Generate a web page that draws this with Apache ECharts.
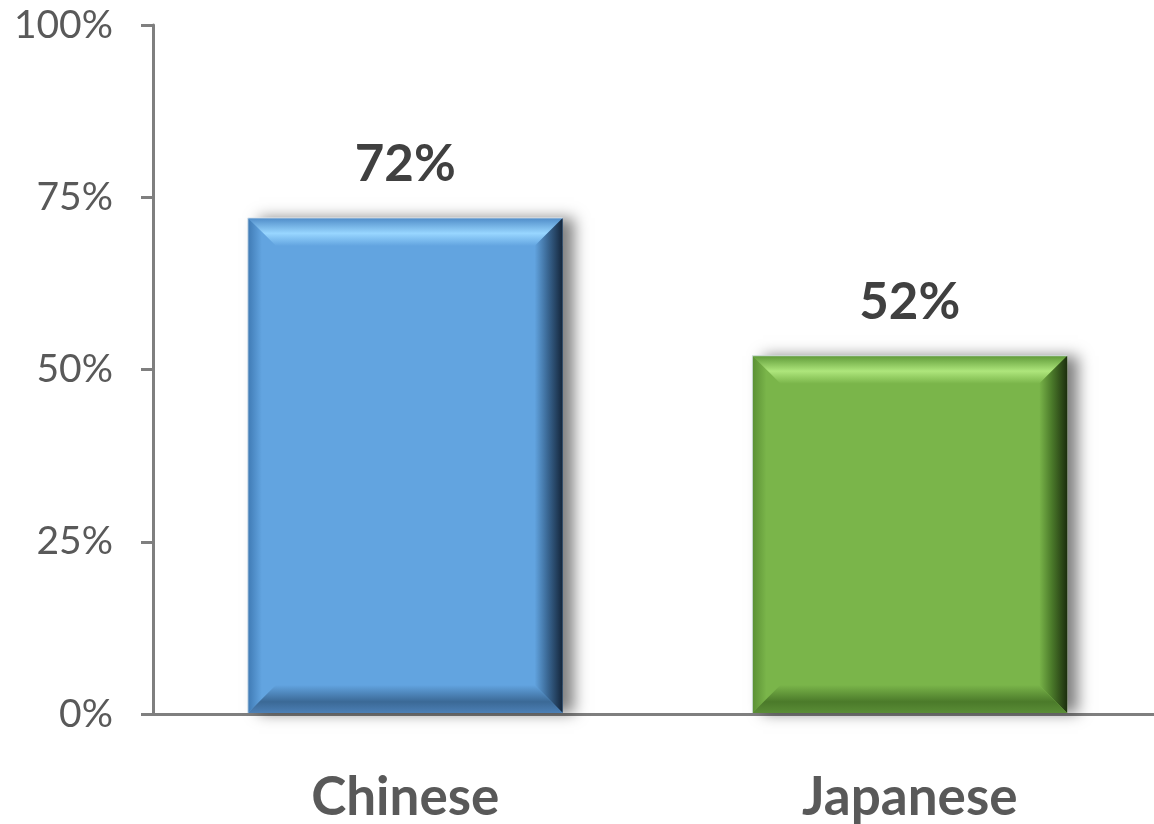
<!DOCTYPE html>
<html>
<head>
<meta charset="utf-8">
<style>
  html, body { margin: 0; padding: 0; background: #ffffff; overflow: hidden; }
  #chart { width: 1154px; height: 824px; }
</style>
<script src="https://cdn.jsdelivr.net/npm/echarts@6/dist/echarts.min.js"></script>
</head>
<body>
<div id="chart"></div>
<script>
// Share of respondents by language
const categories = ['Chinese', 'Japanese'];
const values = [72, 52];
const yTicks = [0, 25, 50, 75, 100];

// Bevel palette per bar: face, top highlight, top edge, side shade, dark edge, bottom shade
const palettes = [
  { face: '#62a4e0', light: '#98d6ff', edge: '#4f8cc8', leftEdge: '#3f7ab4', dark: '#14253a', bottom: '#3b6996', bottomEdge: '#4c80b6' },
  { face: '#7ab54a', light: '#aee67c', edge: '#5f9a38', leftEdge: '#5a9034', dark: '#1c2e0e', bottom: '#4b7a2a', bottomEdge: '#5a8d36' }
];

const chart = echarts.init(document.getElementById('chart'));

function lin(x, y, x2, y2, stops) {
  return new echarts.graphic.LinearGradient(x, y, x2, y2,
    stops.map(s => ({ offset: s[0], color: s[1] })));
}

function renderBevelBar(params, api) {
  const idx = params.dataIndex;
  const val = api.value(1);
  const top = api.coord([api.value(0), val]);
  const base = api.coord([api.value(0), 0]);
  const bw = api.size([1, 0])[0] * 0.624;
  const x0 = top[0] - bw / 2, x1 = top[0] + bw / 2;
  const y0 = top[1], y1 = base[1] - 1;
  const b = 28;
  const p = palettes[idx % palettes.length];
  return {
    type: 'group',
    children: [
      // body with soft drop shadow to the right
      {
        type: 'rect',
        shape: { x: x0, y: y0, width: bw, height: y1 - y0 },
        style: { fill: p.face, shadowColor: 'rgba(0,0,0,0.5)', shadowBlur: 14, shadowOffsetX: 11, shadowOffsetY: 0 }
      },
      // top bevel
      {
        type: 'polygon',
        shape: { points: [[x0, y0], [x1, y0], [x1 - b, y0 + b], [x0 + b, y0 + b]] },
        style: { fill: lin(0, 0, 0, 1, [[0, p.edge], [0.55, p.light], [1, p.face]]) }
      },
      // left bevel
      {
        type: 'polygon',
        shape: { points: [[x0, y0], [x0 + b, y0 + b], [x0 + b, y1 - b], [x0, y1]] },
        style: { fill: lin(0, 0, 1, 0, [[0, p.leftEdge], [0.5, p.face], [1, p.face]]) }
      },
      // right bevel
      {
        type: 'polygon',
        shape: { points: [[x1, y0], [x1, y1], [x1 - b, y1 - b], [x1 - b, y0 + b]] },
        style: { fill: lin(0, 0, 1, 0, [[0, p.face], [0.45, p.bottom], [1, p.dark]]) }
      },
      // bottom bevel
      {
        type: 'polygon',
        shape: { points: [[x0, y1], [x0 + b, y1 - b], [x1 - b, y1 - b], [x1, y1]] },
        style: { fill: lin(0, 0, 0, 1, [[0, p.face], [0.6, p.bottom], [1, p.bottomEdge]]) }
      },
      // thin light rim on top and left
      {
        type: 'polyline',
        shape: { points: [[x0, y1], [x0, y0], [x1, y0]] },
        style: { stroke: 'rgba(220,228,236,0.9)', lineWidth: 1, fill: null }
      },
      // value label
      {
        type: 'text',
        style: {
          text: val + '%',
          x: top[0],
          y: y0 - 28,
          align: 'center',
          verticalAlign: 'bottom',
          fill: '#404040',
          font: 'bold 51px Lato'
        }
      }
    ]
  };
}

chart.setOption({
  animation: false,
  grid: { left: 153, width: 1009, top: 25, bottom: 110, outerBoundsMode: 'none', containLabel: false },
  xAxis: {
    type: 'category',
    data: categories,
    axisLine: { lineStyle: { color: '#7f7f7f', width: 3 } },
    axisTick: { show: false },
    axisLabel: { color: '#595959', fontFamily: 'Lato', fontWeight: 'bold', fontSize: 53, margin: 57 }
  },
  yAxis: {
    type: 'value',
    min: 0,
    max: 100,
    interval: 25,
    axisLine: { show: true, lineStyle: { color: '#7f7f7f', width: 3 } },
    axisTick: { show: true, inside: false, length: 12, lineStyle: { color: '#7f7f7f', width: 3 } },
    splitLine: { show: false },
    axisLabel: {
      color: '#595959', fontFamily: 'Lato', fontSize: 39, margin: 40,
      formatter: v => (yTicks.indexOf(v) >= 0 ? v + '%' : '')
    }
  },
  series: [{
    type: 'custom',
    renderItem: renderBevelBar,
    encode: { x: 0, y: 1 },
    data: categories.map((c, i) => [i, values[i]]),
    z: 2
  }]
});
</script>
</body>
</html>
